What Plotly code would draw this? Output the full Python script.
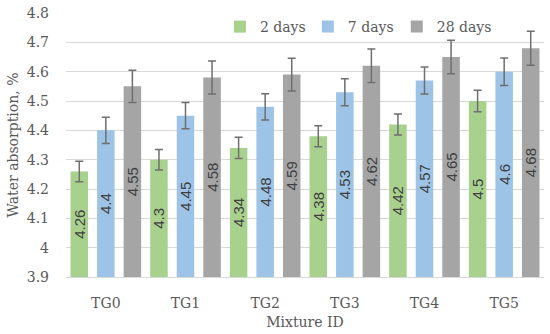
import plotly.graph_objects as go

categories = ["TG0", "TG1", "TG2", "TG3", "TG4", "TG5"]
series_names = ["2 days", "7 days", "28 days"]
days2 = [4.26, 4.30, 4.34, 4.38, 4.42, 4.50]
days7 = [4.40, 4.45, 4.48, 4.53, 4.57, 4.60]
days28 = [4.55, 4.58, 4.59, 4.62, 4.65, 4.68]
err2 = [0.035, 0.035, 0.036, 0.036, 0.036, 0.037]
err7 = [0.045, 0.045, 0.045, 0.046, 0.046, 0.047]
err28 = [0.055, 0.056, 0.056, 0.057, 0.057, 0.058]
labels2 = ["4.26", "4.3", "4.34", "4.38", "4.42", "4.5"]
labels7 = ["4.4", "4.45", "4.48", "4.53", "4.57", "4.6"]
labels28 = ["4.55", "4.58", "4.59", "4.62", "4.65", "4.68"]
y_ticks = [3.9, 4.0, 4.1, 4.2, 4.3, 4.4, 4.5, 4.6, 4.7, 4.8]
y_tick_text = ["3.9", "4", "4.1", "4.2", "4.3", "4.4", "4.5", "4.6", "4.7", "4.8"]
axis_base = 3.9

colors = ["#A9D18E", "#9DC3E6", "#A5A5A5"]
legend_ids = ["legend", "legend2", "legend3"]
legend_x = [0.322, 0.506, 0.692]
serif = "DejaVu Serif"
text_col = "#404040"
axis_col = "#595959"

fig = go.Figure()
for name, vals, errs, labs, col, lid in zip(series_names, [days2, days7, days28],
                                            [err2, err7, err28],
                                            [labels2, labels7, labels28],
                                            colors, legend_ids):
    fig.add_trace(go.Bar(
        x=categories, y=[v - axis_base for v in vals], base=axis_base,
        name=name, legend=lid, showlegend=True,
        marker=dict(color=col, line=dict(width=0)),
        text=labs, textposition="inside", textangle=-90,
        insidetextanchor="middle", constraintext="none",
        textfont=dict(family="Liberation Sans", size=15, color=text_col),
        error_y=dict(type="data", array=errs, visible=True,
                     color="#6F6F6F", thickness=1.5, width=4),
    ))

legend_common = dict(orientation="h", xanchor="left", y=0.947,
                     yanchor="middle", bgcolor="rgba(0,0,0,0)",
                     font=dict(family=serif, size=14, color=axis_col),
                     itemwidth=30, visible=True)

fig.update_layout(
    width=550, height=334,
    margin=dict(l=66, r=6, t=13, b=57, autoexpand=False),
    paper_bgcolor="white", plot_bgcolor="white",
    showlegend=True,
    barmode="group", bargap=0.0, bargroupgap=0.34,
    font=dict(family=serif, size=14, color=axis_col),
    legend=dict(x=legend_x[0], **legend_common),
    legend2=dict(x=legend_x[1], **legend_common),
    legend3=dict(x=legend_x[2], **legend_common),
    xaxis=dict(showgrid=False, showline=True, linecolor="#D9D9D9",
               linewidth=1, ticks="",
               tickfont=dict(family=serif, size=14, color=axis_col),
               ticklabelstandoff=13, automargin=False,
               title=dict(text="Mixture ID", standoff=7,
                          font=dict(family=serif, size=14, color=axis_col))),
    yaxis=dict(range=[3.9, 4.8], tickvals=y_ticks, ticktext=y_tick_text,
               showgrid=True, gridcolor="#D9D9D9", gridwidth=1,
               zeroline=False, showline=False, ticks="",
               ticklabelstandoff=16, automargin=False,
               tickfont=dict(family=serif, size=14, color=axis_col),
               title=dict(text="Water absorption, %", standoff=4,
                          font=dict(family=serif, size=14, color=axis_col))),
)

fig.write_html("out.html", config={"displayModeBar": False},
               post_script="document.body.style.margin='0';")
